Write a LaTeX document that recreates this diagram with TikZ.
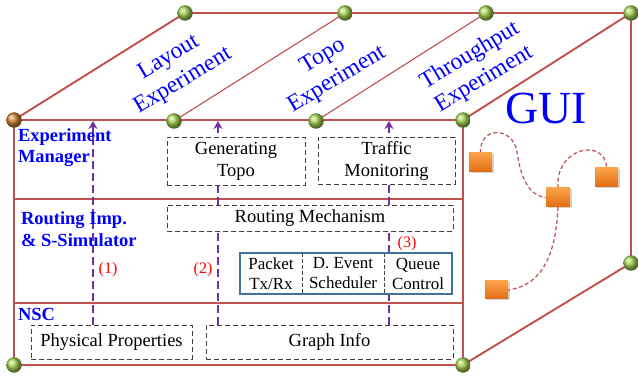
\documentclass[tikz,border=0pt]{standalone}
\usepackage{fontspec}
\setmainfont{Liberation Serif}
\usetikzlibrary{arrows.meta,shadows}

\definecolor{edgered}{RGB}{192,80,77}
\definecolor{arrowpurple}{RGB}{112,48,160}
\definecolor{titleblue}{RGB}{0,0,255}
\definecolor{cellblue}{RGB}{65,113,156}
\definecolor{dashgray}{RGB}{64,64,64}
\definecolor{ballgreen}{RGB}{165,210,80}
\definecolor{ballrust}{RGB}{205,130,50}
\definecolor{sqtop}{RGB}{250,162,72}
\definecolor{sqbot}{RGB}{226,108,20}

\pgfdeclarelayer{back}
\pgfsetlayers{back,main}

\begin{document}
\begin{tikzpicture}[x=1pt,y=-1pt,
  every node/.style={inner sep=0pt, outer sep=0pt},
  joint/.style={circle, minimum size=15.5pt, shading=ball, ball color=ballgreen},
  rim/.style={draw=edgered, line width=1.9pt},
  seam/.style={draw=edgered, line width=1.1pt},
  module/.style={draw=dashgray, dash pattern=on 5pt off 3pt, line width=0.9pt, fill=white,
                 align=center, font=\fontsize{18.5}{22}\selectfont},
  cell/.style={fill=white, align=center, minimum height=41pt, font=\fontsize{17}{20}\selectfont},
  layer/.style={anchor=base west, text=titleblue, font=\fontsize{18.5}{22}\selectfont\bfseries},
  face/.style={text=titleblue, align=center, rotate=31, font=\fontsize{23.5}{27.5}\selectfont},
  flow/.style={draw=arrowpurple, line width=2.7pt, dash pattern=on 8pt off 4pt,
               -{Stealth[length=8pt,width=9pt]}},
  tag/.style={text=red, font=\fontsize{16}{18}\selectfont},
  widget/.style={minimum width=23pt, minimum height=19pt, top color=sqtop, bottom color=sqbot,
                 drop shadow={opacity=0.35, shadow xshift=1.5pt, shadow yshift=-1.5pt}},
  wire/.style={draw=edgered, line width=1.2pt, dash pattern=on 4pt off 2.5pt}
]
\useasboundingbox (0,0) rectangle (638,382);

% corner joints of the box
\node[joint, ball color=ballrust] (F1) at (14,120) {};
\node[joint] (F2) at (174,121) {};
\node[joint] (F3) at (316,121) {};
\node[joint] (F4) at (463,120) {};
\node[joint] (B1) at (185,13) {};
\node[joint] (B2) at (345,13) {};
\node[joint] (B3) at (486,13) {};
\node[joint] (B4) at (631,13) {};
\node[joint] (BR) at (631,263) {};
\node[joint] (FBL) at (14,365) {};
\node[joint] (FBR) at (463,365) {};

% faces of the top
\node[face] (lay) at (176,69.5) {Layout\\Experiment};
\node[face] (topo) at (330,68) {Topo\\Experiment};
\node[face] (thr) at (477,67.5) {Throughput\\Experiment};
\node[text=titleblue, font=\fontsize{46}{50}\selectfont] (gui) at (546,108) {GUI};

% layer titles
\node[layer] (em1) at (18,142) {Experiment};
\node[layer] (em2) at (18,163) {Manager};
\node[layer] (rs1) at (21,225) {Routing Imp.};
\node[layer] (rs2) at (21,247) {\& S-Simulator};
\node[layer] (nsc) at (18,321) {NSC};

% modules
\node[module, minimum width=138pt, minimum height=48pt] (gen) at (236,161) {Generating\\Topo};
\node[module, minimum width=137pt, minimum height=47pt] (traf) at (386.5,160.5) {Traffic\\Monitoring};
\node[module, minimum width=286pt, minimum height=26pt] (rout) at (310,218) {Routing Mechanism};
\node[module, minimum width=161pt, minimum height=34pt] (phys) at (111.5,342) {Physical Properties};
\node[module, minimum width=247pt, minimum height=34pt] (graph) at (329.5,342) {Graph Info};

% simulator cells
\node[cell, minimum width=62pt] (cA) at (271,273.5) {Packet\\Tx/Rx};
\node[cell, minimum width=82pt] (cB) at (343,273.5) {D. Event\\Scheduler};
\node[cell, minimum width=68pt] (cC) at (418,273.5) {Queue\\Control};
\draw[dashgray, dash pattern=on 4pt off 2pt, line width=0.9pt] (cA.north east) -- (cA.south east);
\draw[dashgray, dash pattern=on 4pt off 2pt, line width=0.9pt] (cB.north east) -- (cB.south east);
\draw[cellblue, line width=1.5pt] (cA.north west) rectangle (cC.south east);

% flow labels
\node[tag] (t1) at (108,270) {(1)};
\node[tag] (t2) at (203,270) {(2)};
\node[tag] (t3) at (407,244) {(3)};

% GUI widgets
\node[widget] (s1) at (480.5,162.5) {};
\node[widget, minimum width=24pt] (s2) at (558,197.5) {};
\node[widget] (s3) at (606.5,177.5) {};
\node[widget, minimum height=18pt] (s4) at (496.5,290) {};

% flow end points on the top edge
\coordinate (top1) at (93,121);
\coordinate (top2) at (218,121);
\coordinate (top3) at (389,121);
\coordinate (d1) at (14,199);
\coordinate (d2) at (14,303);

\begin{pgfonlayer}{back}
  % box edges
  \draw[rim] (F1.center) -- (F4.center) -- (FBR.center) -- (FBL.center) -- cycle;
  \draw[rim] (B1.center) -- (B4.center) -- (BR.center) -- (FBR.center);
  \draw[rim] (F1.center) -- (B1.center);
  \draw[rim] (F4.center) -- (B4.center);
  \draw[seam] (F2.center) -- (B2.center);
  \draw[seam] (F3.center) -- (B3.center);
  \draw[seam] (d1) -- (d1 -| F4);
  \draw[seam] (d2) -- (d2 -| F4);
  % data flows
  \draw[flow] (phys.north -| top1) -- (top1);
  \draw[flow] (graph.north -| top2) -- (top2);
  \draw[flow] (graph.north -| top3) -- (top3);
  % GUI wires
  \draw[wire] (s1.north) .. controls (479,126) and (513,126) .. (517,152)
              .. controls (521,180) and (530,196) .. (s2.west);
  \draw[wire] (s2.north) .. controls (555,146) and (606,138) .. (s3.north);
  \draw[wire] (s2.south) .. controls (556,250) and (545,285) .. (s4.east);
\end{pgfonlayer}
\end{tikzpicture}
\end{document}
